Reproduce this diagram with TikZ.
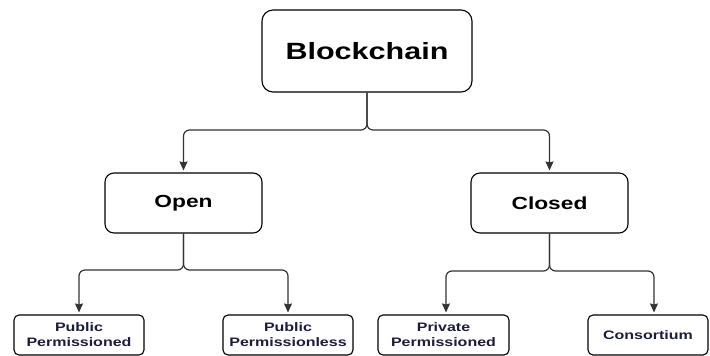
\documentclass[tikz,border=0pt]{standalone}
\usepackage{fontspec}
\setmainfont[FakeStretch=1.3]{Liberation Sans}
\usetikzlibrary{arrows.meta}
\definecolor{edgegray}{HTML}{333333}
\definecolor{leafink}{HTML}{1C1C3C}
\begin{document}
\begin{tikzpicture}[x=1pt,y=-1pt,
  box/.style={draw=black,line width=1.1pt,fill=white,inner sep=0pt,align=center,font=\bfseries},
  rootbox/.style={box,rounded corners=11pt,minimum width=210pt,minimum height=82pt,font=\bfseries\fontsize{23.5}{27}\selectfont},
  midbox/.style={box,rounded corners=9pt,minimum width=157pt,minimum height=60pt,font=\bfseries\fontsize{17.5}{20}\selectfont},
  leafbox/.style={box,rounded corners=5pt,minimum height=40pt,text=leafink,font=\bfseries\fontsize{12.3}{15}\selectfont},
  link/.style={draw=edgegray,line width=1.2pt,rounded corners=6pt,-{Stealth[length=9pt,width=8pt,inset=1pt]},shorten >=2pt}
]
\useasboundingbox (0,0) rectangle (710,356);

% tree nodes
\node[rootbox] (blk) at (367,51) {Blockchain};
\node[midbox] (open) at (183.5,203) {Open};
\node[midbox] (closed) at (549.5,203) {Closed};
\node[leafbox,minimum width=130pt] (pubperm) at (79,335) {Public\\Permissioned};
\node[leafbox,minimum width=130pt] (publess) at (288,335) {Public\\Permissionless};
\node[leafbox,minimum width=131pt] (privperm) at (443.5,335) {Private\\Permissioned};
\node[leafbox,minimum width=120pt] (cons) at (648,335) {Consortium};

% brace-shaped connectors
\draw[link] (blk.south) -- (blk.south |- 0,130) -- (open.north |- 0,130) -- (open.north);
\draw[link] (blk.south) -- (blk.south |- 0,130) -- (closed.north |- 0,130) -- (closed.north);

\draw[link] (open.south) -- (open.south |- 0,270) -- (pubperm.north |- 0,270) -- (pubperm.north);
\draw[link] (open.south) -- (open.south |- 0,270) -- (publess.north |- 0,270) -- (publess.north);

\draw[link] (closed.south) -- (closed.south |- 0,271) -- ([xshift=2.5pt]privperm.north |- 0,271) -- ([xshift=2.5pt]privperm.north);
\draw[link] (closed.south) -- (closed.south |- 0,271) -- ([xshift=6pt]cons.north |- 0,271) -- ([xshift=6pt]cons.north);
\end{tikzpicture}
\end{document}
